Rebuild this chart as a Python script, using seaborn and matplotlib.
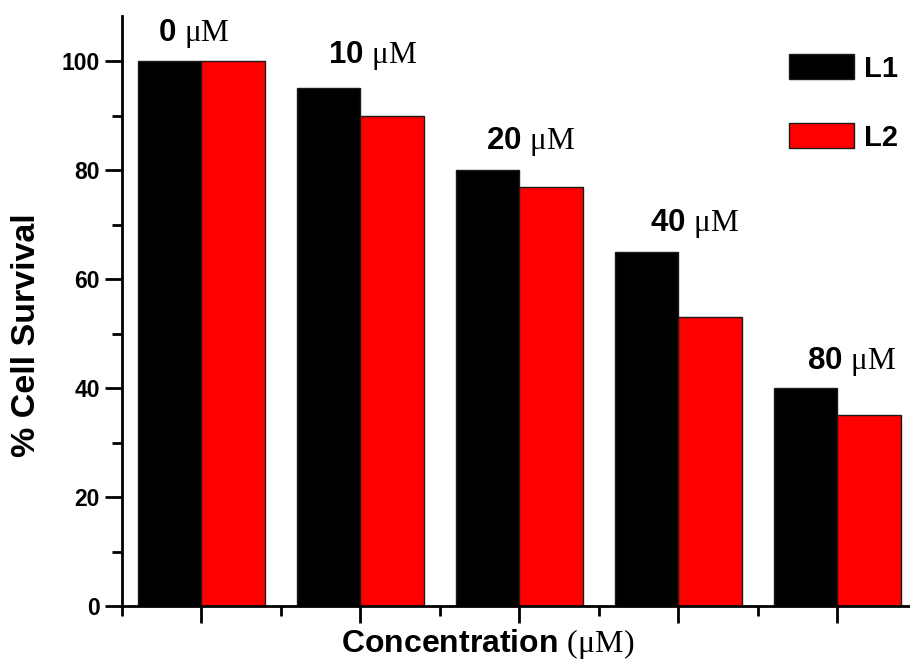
import matplotlib
matplotlib.use("Agg")
import matplotlib.pyplot as plt
from matplotlib.ticker import MultipleLocator, FixedLocator
import seaborn as sns
import pandas as pd

concentrations = ["0", "10", "20", "40", "80"]
l1_values = [100, 95, 80, 65, 40]
l2_values = [100, 90, 77, 53, 35]
series_names = ["L1", "L2"]

df = pd.DataFrame({
    "conc": concentrations * 2,
    "survival": l1_values + l2_values,
    "ligand": [series_names[0]] * len(concentrations) + [series_names[1]] * len(concentrations),
})

# label placement offsets (layout only)
label_dx = [-0.047, 0.075, 0.07, 0.10, 0.094]
label_dy = [5.1, 6.1, 5.3, 5.3, 4.8]

sns.set_style("ticks")
plt.rcParams["font.family"] = ["Liberation Sans", "DejaVu Sans"]
plt.rcParams["mathtext.fontset"] = "custom"
plt.rcParams["mathtext.rm"] = "Liberation Serif:weight=normal"
plt.rcParams["mathtext.it"] = "Liberation Serif:italic:weight=normal"
plt.rcParams["mathtext.bf"] = "Liberation Serif:weight=bold"
for key in ["text.color", "axes.labelcolor", "xtick.color", "ytick.color", "axes.edgecolor"]:
    plt.rcParams[key] = "black"

fig = plt.figure(figsize=(9.1, 6.71), dpi=100)
ax = fig.add_axes([122 / 910, 65 / 671, 1 - 122 / 910, (606 - 16) / 671])

sns.barplot(data=df, x="conc", y="survival", hue="ligand", order=concentrations,
            hue_order=series_names, palette=["#000000", "#ff0000"], width=0.8,
            edgecolor="#1a1a1a", linewidth=1.0, saturation=1, ax=ax)

ax.set_xlim(-0.5, 4.459)
ax.set_ylim(0, 108.3)
sns.despine(ax=ax)
for s in ["left", "bottom"]:
    ax.spines[s].set_linewidth(2.0)
    ax.spines[s].set_color("black")

ax.yaxis.set_major_locator(MultipleLocator(20))
ax.yaxis.set_minor_locator(MultipleLocator(10))
ax.xaxis.set_minor_locator(FixedLocator([-0.5, 0.5, 1.5, 2.5, 3.5]))
ax.tick_params(axis="both", which="major", direction="out", length=12, width=2, color="black")
ax.tick_params(axis="both", which="minor", direction="out", length=7, width=2, color="black")
ax.tick_params(axis="x", labelbottom=False)
ax.tick_params(axis="y", labelsize=16.5, pad=4, labelcolor="black")
for lbl in ax.get_yticklabels():
    lbl.set_fontweight("bold")

xl = ax.set_xlabel("Concentration $\\mathrm{(\\mu M)}$", fontsize=23, fontweight="bold")
xl.set_va("center")
ax.xaxis.set_label_coords(0.464, -0.065)
yl = ax.set_ylabel("% Cell Survival", fontsize=24.5, fontweight="bold")
yl.set_va("center")
ax.yaxis.set_label_coords(-0.121, 0.459)

for i, c in enumerate(concentrations):
    ax.text(i + label_dx[i], l1_values[i] + label_dy[i], f"{c} $\\mathrm{{\\mu M}}$",
            ha="center", va="center", fontsize=22.5, fontweight="bold", color="black")

handles, labels = ax.get_legend_handles_labels()
for h in handles:
    h.set_edgecolor("#1a1a1a")
    h.set_linewidth(1.0)
leg = ax.legend(handles, labels, loc="upper right", bbox_to_anchor=(1.0, 0.955), frameon=False,
                fontsize=21, handlelength=2.25, handleheight=0.93, labelspacing=1.4,
                handletextpad=0.35, borderaxespad=0.0)
for t in leg.get_texts():
    t.set_fontweight("bold")
    t.set_color("black")

fig.savefig("out.png", dpi=100)
